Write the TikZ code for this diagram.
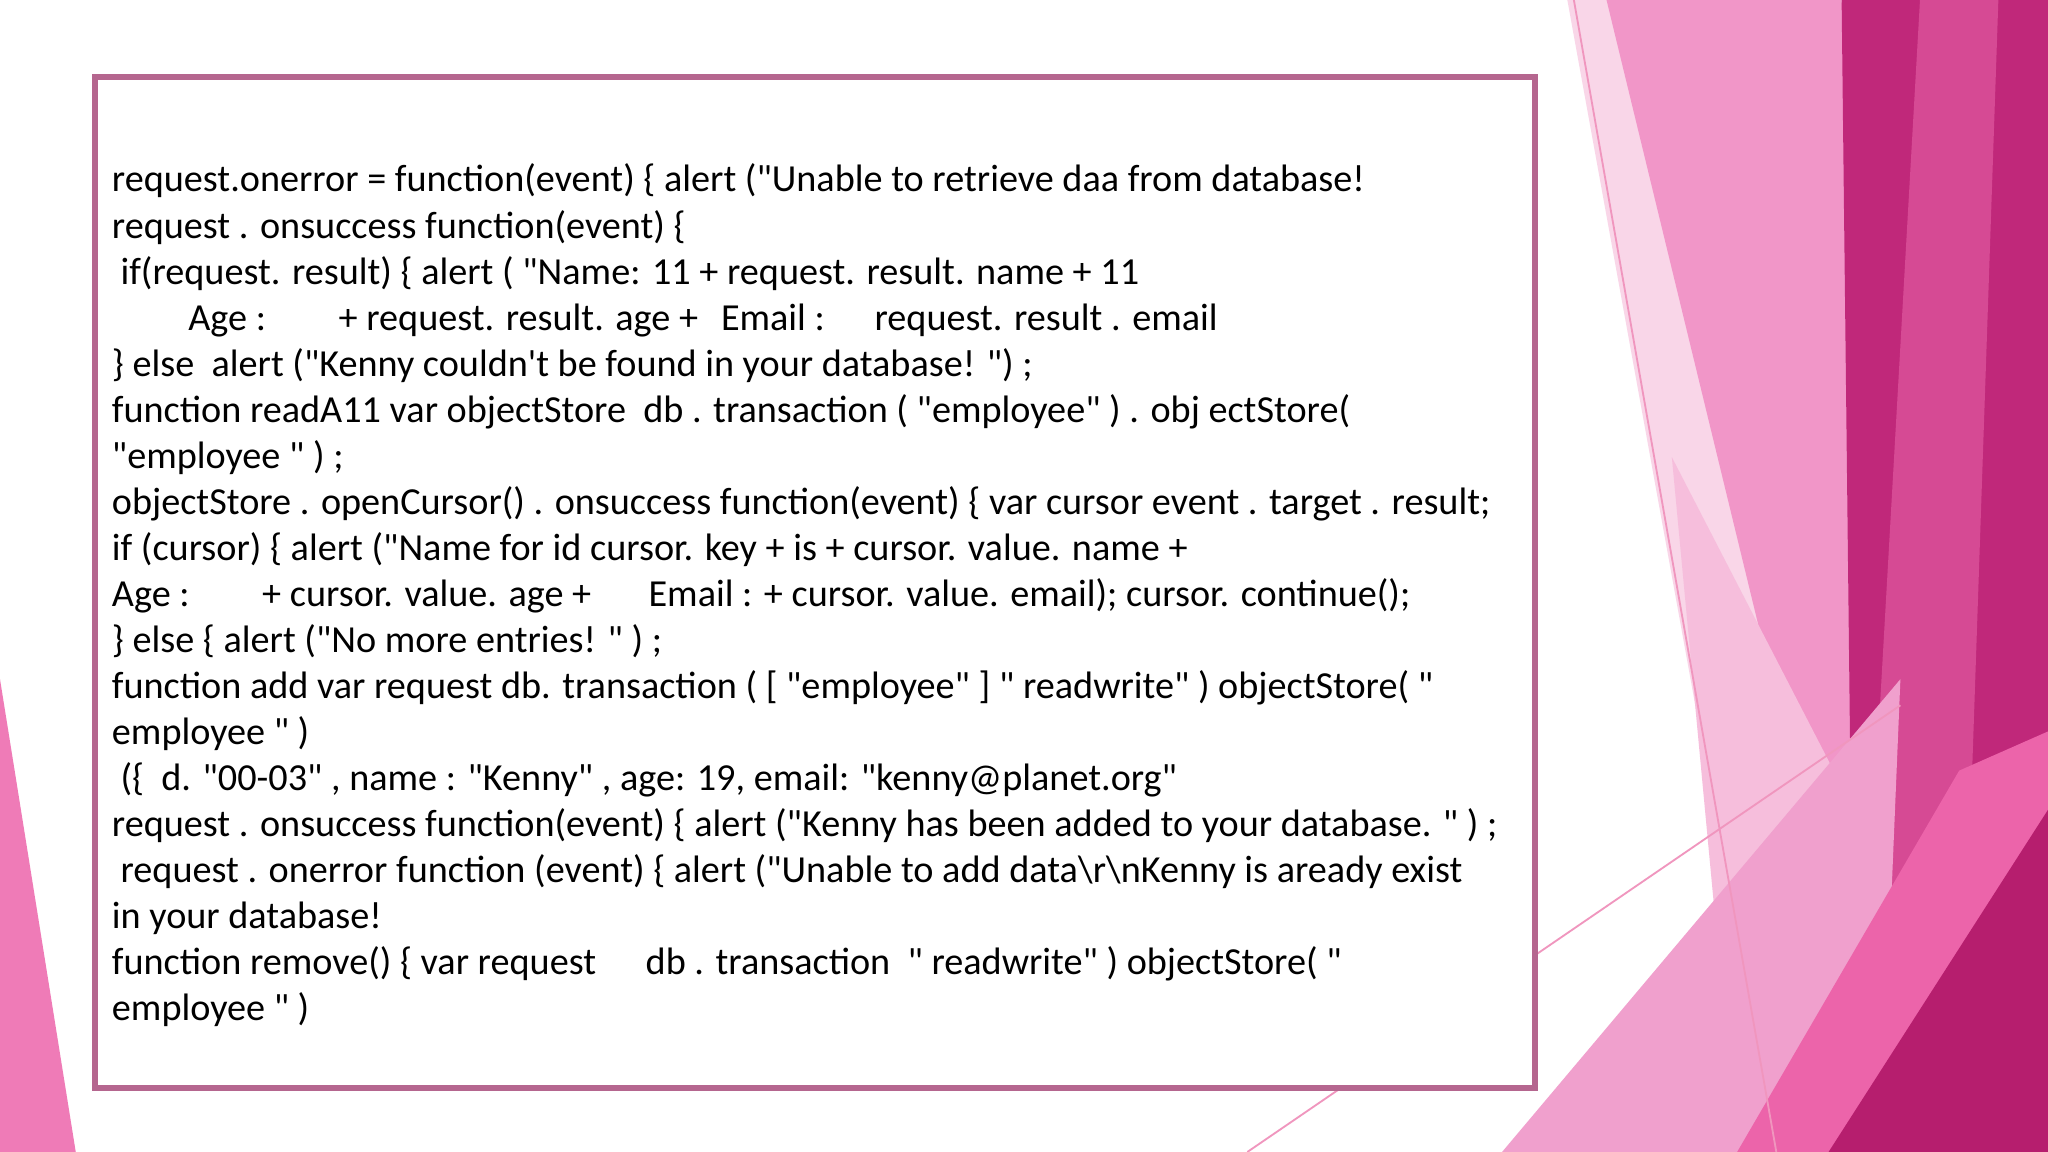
\documentclass[tikz,border=0pt]{standalone}
\usepackage{fontspec}
\setmainfont{Carlito}[Ligatures=TeXOff]
\definecolor{boxc}{RGB}{181,102,143}
\definecolor{pale}{RGB}{249,214,232}
\definecolor{midp}{RGB}{241,150,200}
\definecolor{lightp}{RGB}{246,190,220}
\definecolor{darkm}{RGB}{192,40,122}
\definecolor{darkm2}{RGB}{214,74,148}
\definecolor{deepm}{RGB}{182,30,110}
\definecolor{hotp}{RGB}{236,100,170}
\definecolor{lowp}{RGB}{240,160,205}
\definecolor{thinl}{RGB}{240,150,190}
\begin{document}
\begin{tikzpicture}[x=0.01cm,y=-0.01cm,
 codeline/.style={anchor=base west,inner sep=0pt,font=\fontsize{8.32}{10}\selectfont}]
\useasboundingbox (0,0) rectangle (1568,882);
\fill[white] (0,0) rectangle (1568,882);
% right decoration
\fill[pale] (1200,0) -- (1300,0) -- (1470,882) -- (1360,882) -- cycle;
\fill[midp] (1230,0) -- (1410,0) -- (1440,660) -- (1400,700) -- cycle;
\fill[lightp] (1280,350) -- (1440,660) -- (1400,882) -- (1330,882) -- cycle;
\fill[darkm] (1410,0) -- (1568,0) -- (1568,882) -- (1420,882) -- cycle;
\fill[darkm2] (1470,0) -- (1530,0) -- (1500,882) -- (1420,882) -- cycle;
\fill[lowp] (1150,882) -- (1455,520) -- (1440,882) -- cycle;
\fill[hotp] (1330,882) -- (1500,590) -- (1568,560) -- (1568,882) -- cycle;
\fill[deepm] (1400,882) -- (1568,620) -- (1568,882) -- cycle;
\draw[thinl,line width=0.4pt] (1205,0) -- (1360,882);
\draw[thinl,line width=0.4pt] (955,882) -- (1455,540);
% left decoration
\fill[hotp!85!white] (0,520) -- (58,882) -- (0,882) -- cycle;
% box
\draw[boxc,line width=1.3pt,fill=white] (73,59) rectangle (1175,833);
\foreach \t [count=\i] in {
{request.onerror = function(event) \{ alert ("Unable to retrieve daa from database!},
{request . onsuccess function(event) \{},
{\ if(request. result) \{ alert ( "Name: 11 + request. result. name + 11},
{\hspace*{2em}Age :\hspace*{1.9em}+ request. result. age +\hspace*{0.6em}Email :\hspace*{1.3em}request. result . email},
{\} else\ \ alert ("Kenny couldn't be found in your database! ") ;},
{function readA11 var objectStore\ \ db . transaction ( "employee" ) . obj ectStore(},
{"employee " ) ;},
{objectStore . openCursor() . onsuccess function(event) \{ var cursor event . target . result;},
{if (cursor) \{ alert ("Name for id cursor. key + is + cursor. value. name +},
{Age :\hspace*{1.9em}+ cursor. value. age +\hspace*{1.5em}Email : + cursor. value. email); cursor. continue();},
{\} else \{ alert ("No more entries! " ) ;},
{function add var request db. transaction ( [ "employee" ] " readwrite" ) objectStore( "},
{employee " )},
{\ (\{\ \ d. "00-03" , name : "Kenny" , age: 19, email: "kenny@planet.org"},
{request . onsuccess function(event) \{ alert ("Kenny has been added to your database. " ) ;},
{\ request . onerror function (event) \{ alert ("Unable to add data\textbackslash r\textbackslash nKenny is aready exist},
{in your database!},
{function remove() \{ var request\hspace*{1.3em}db . transaction\ \ " readwrite" ) objectStore( "},
{employee " )}}
 \node[codeline] (l\i) at (85,{147+35.25*(\i-1)}) {\t};
\end{tikzpicture}
\end{document}
